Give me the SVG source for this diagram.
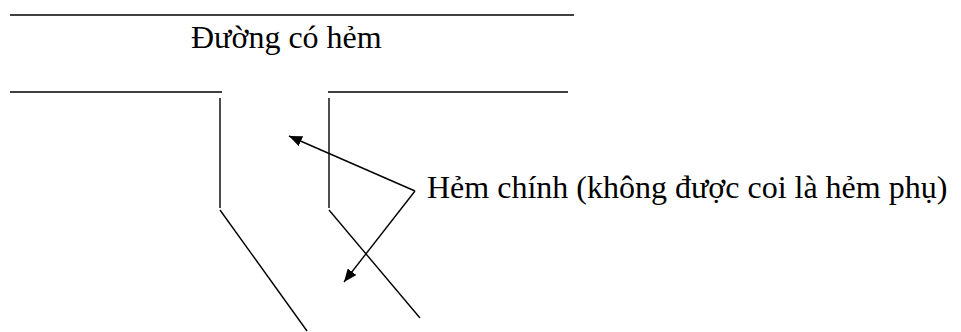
<svg xmlns="http://www.w3.org/2000/svg" width="961" height="332" viewBox="0 0 961 332">
<style>
.ln{stroke:#000;stroke-width:1.4;fill:none}
.hl{stroke:#000;stroke-width:1.6;fill:none}
.t{font-family:"Liberation Serif","Times New Roman",serif;font-size:32px;fill:#000}
</style>
<defs>
<marker id="ah" viewBox="0 0 12 10" refX="12" refY="5" markerWidth="13" markerHeight="11" markerUnits="userSpaceOnUse" orient="auto">
<path d="M0,0 L12,5 L0,10 z" fill="#000"/>
</marker>
</defs>
<rect width="961" height="332" fill="#fff"/>
<g id="road">
<line class="hl" x1="10" y1="15" x2="574" y2="15"/>
<line class="hl" x1="10" y1="92" x2="222" y2="92"/>
<line class="hl" x1="328" y1="92" x2="568" y2="92"/>
<text class="t" x="191" y="48">Đường có hẻm</text>
</g>
<g id="alley">
<line class="ln" x1="220" y1="98" x2="220" y2="208"/>
<line class="ln" x1="329" y1="98" x2="329" y2="208"/>
<line class="ln" x1="220" y1="210" x2="307" y2="331"/>
<line class="ln" x1="329" y1="210" x2="420" y2="318"/>
</g>
<g id="label">
<text class="t" x="427" y="198">Hẻm chính (không được coi là hẻm phụ)</text>
</g>
<g id="connectors">
<line class="ln" x1="415" y1="191" x2="289" y2="136" marker-end="url(#ah)"/>
<line class="ln" x1="415" y1="191" x2="344" y2="282" marker-end="url(#ah)"/>
</g>
</svg>
